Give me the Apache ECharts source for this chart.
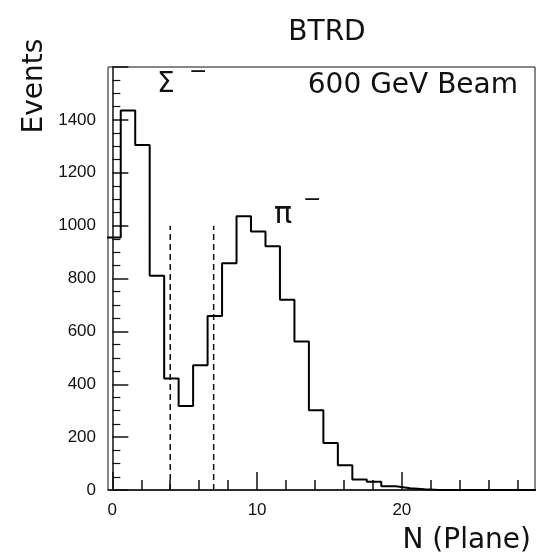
<!DOCTYPE html>
<html>
<head>
<meta charset="utf-8">
<script src="https://cdn.jsdelivr.net/npm/echarts@6/dist/echarts.min.js"></script>
<style>
html,body{margin:0;padding:0;background:#fff;}
#chart{width:536px;height:560px;}
</style>
</head>
<body>
<div id="chart"></div>
<script>
// ---- data ----
const binCenters = [0,1,2,3,4,5,6,7,8,9,10,11,12,13,14,15,16,17,18,19,20,21,22,23,24,25,26,27,28,29];
const counts     = [955,1435,1305,810,422,318,472,658,858,1035,978,922,720,562,302,178,94,40,31,14,7,3,0,0,0,0,0,0,0,0];
const cutPositions = [4, 7];
const cutHeight = 1000;
const xMinorTicks = [0,2,4,6,8,10,12,14,16,18,20,22,24,26,28];
const xMajorTicks = [0,10,20];
const xLabels = [0,10,20];
const yLabels = [0,200,400,600,800,1000,1200,1400];
const binOffset = 0.08;   // drawn bins sit slightly right of integer centres
const binWidth = 1;

// ---- build step points from the arrays ----
const stepPoints = binCenters.map((c, i) => [c + binOffset - binWidth / 2, counts[i]]);
stepPoints.push([binCenters[binCenters.length - 1] + binOffset + binWidth / 2, counts[counts.length - 1]]);

const chart = echarts.init(document.getElementById('chart'));
const labelFont = 'Liberation Sans, Arial, sans-serif';
const bigFont = 'DejaVu Sans, sans-serif';

const cutSeries = cutPositions.map((x, i) => ({
  type: 'line',
  name: 'cut' + i,
  data: [[x, 0], [x, cutHeight]],
  symbol: 'none',
  silent: true,
  lineStyle: { color: '#111', width: 1.5, type: [6, 4] },
  z: 3
}));

chart.setOption({
  animation: false,
  backgroundColor: '#fff',
  title: {
    text: 'BTRD',
    left: 322,
    top: 14,
    textAlign: 'center',
    textStyle: { fontFamily: bigFont, fontSize: 28, fontWeight: 'normal', color: '#111' }
  },
  grid: {
    left: 108, right: 1, top: 67, bottom: 70,
    show: true, borderColor: '#111', borderWidth: 1, backgroundColor: 'transparent'
  },
  xAxis: [
    {
      type: 'value', min: -0.3, max: 29.2,
      axisLine: { show: true, onZero: false, lineStyle: { color: '#111', width: 1.5 } },
      axisTick: { show: true, inside: true, length: 10, customValues: xMinorTicks, lineStyle: { color: '#111', width: 1.5 } },
      axisLabel: { show: true, customValues: xLabels, margin: 12, fontFamily: labelFont, fontSize: 17, color: '#111',
                   formatter: v => String(v) },
      splitLine: { show: false }
    },
    {
      type: 'value', min: -0.3, max: 29.2, position: 'bottom',
      axisLine: { show: false },
      axisTick: { show: true, inside: true, length: 18, customValues: xMajorTicks, lineStyle: { color: '#111', width: 1.5 } },
      axisLabel: { show: false },
      splitLine: { show: false }
    }
  ],
  yAxis: [
    {
      type: 'value', min: 0, max: 1600, interval: 200,
      axisLine: { show: true, lineStyle: { color: '#111', width: 1.5 } },
      axisTick: { show: true, inside: true, length: 16, lineStyle: { color: '#111', width: 1.5 } },
      minorTick: { show: true, splitNumber: 4, length: 8, lineStyle: { color: '#111', width: 1.2 } },
      axisLabel: { customValues: yLabels, margin: 12, fontFamily: labelFont, fontSize: 17, color: '#111',
                   formatter: v => String(v) },
      splitLine: { show: false }
    }
  ],
  series: [
    {
      type: 'line',
      name: 'N plane',
      data: stepPoints,
      step: 'end',
      symbol: 'none',
      clip: true,
      lineStyle: { color: '#000', width: 2 },
      z: 4
    }
  ].concat(cutSeries),
  graphic: [
    { type: 'text', x: 35, y: 86, rotation: Math.PI / 2,
      style: { text: 'Events', font: '28px ' + bigFont, fill: '#111', align: 'center', verticalAlign: 'middle' } },
    { type: 'text', x: 157, y: 85,
      style: { text: 'Σ', font: '28px ' + bigFont, fill: '#111', align: 'left', verticalAlign: 'middle' } },
    { type: 'text', x: 189, y: 72,
      style: { text: '−', font: '22px ' + bigFont, fill: '#111', align: 'left', verticalAlign: 'middle' } },
    { type: 'text', x: 518, y: 86,
      style: { text: '600 GeV Beam', font: '28px ' + bigFont, fill: '#111', align: 'right', verticalAlign: 'middle' } },
    { type: 'text', x: 274, y: 215,
      style: { text: 'π', font: '30px ' + bigFont, fill: '#111', align: 'left', verticalAlign: 'middle' } },
    { type: 'text', x: 303, y: 200,
      style: { text: '−', font: '22px ' + bigFont, fill: '#111', align: 'left', verticalAlign: 'middle' } },
    { type: 'text', x: 531, y: 541,
      style: { text: 'N (Plane)', font: '28px ' + bigFont, fill: '#111', align: 'right', verticalAlign: 'middle' } }
  ]
});
</script>
</body>
</html>
